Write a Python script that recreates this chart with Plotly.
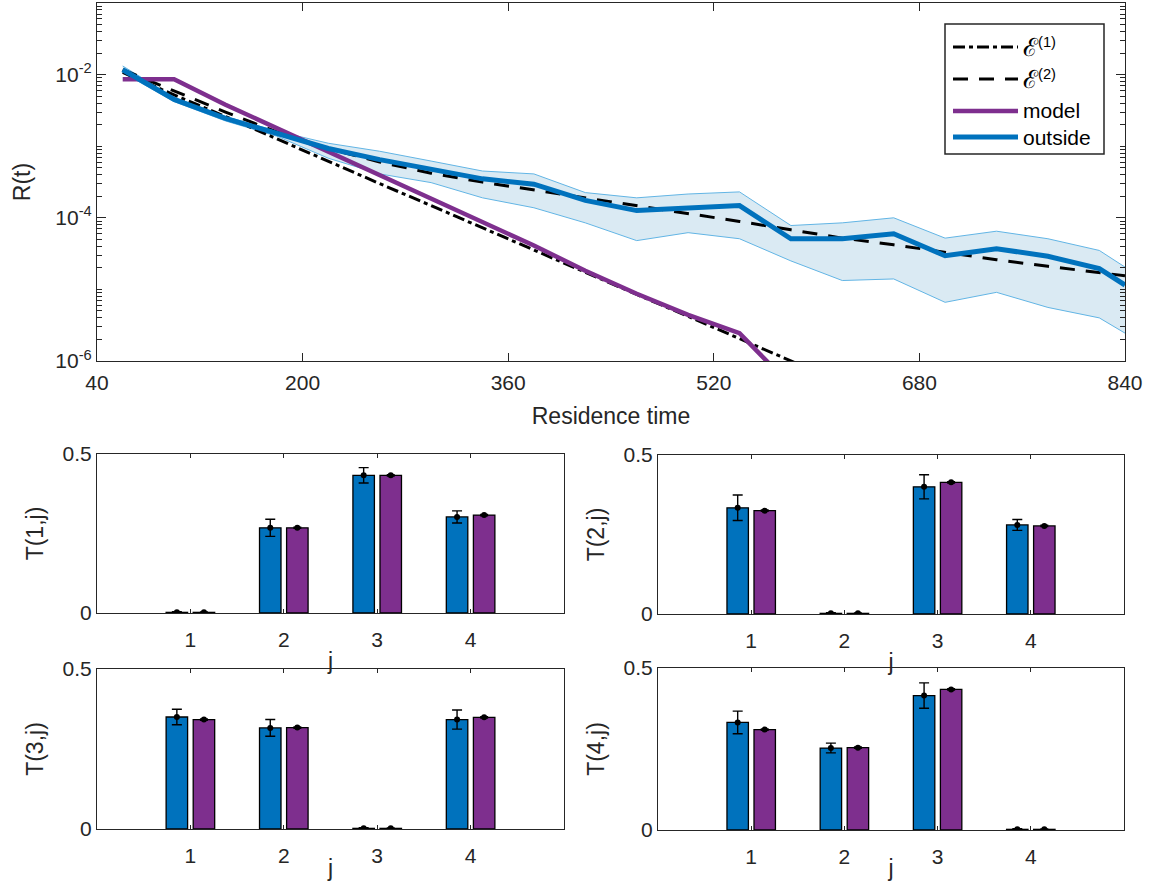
import plotly.graph_objects as go

# ---------------- data: residence-time distribution ----------------
t = [60, 100, 140, 180, 220, 260, 300, 340, 380, 420, 460, 500, 540,
     580, 620, 660, 700, 740, 780, 820, 840]
outside = [1.17e-2, 4.5e-3, 2.45e-3, 1.5e-3, 9.3e-4, 6.5e-4, 4.8e-4, 3.5e-4, 2.95e-4,
           1.75e-4, 1.26e-4, 1.38e-4, 1.48e-4, 5.1e-5, 5.1e-5, 6.0e-5, 2.95e-5,
           3.7e-5, 2.9e-5, 1.95e-5, 1.15e-5]
outside_hi = [1.32e-2, 4.8e-3, 2.6e-3, 1.62e-3, 1.1e-3, 8.5e-4, 6.2e-4, 4.5e-4, 4.1e-4,
              2.25e-4, 1.9e-4, 2.15e-4, 2.3e-4, 7.8e-5, 8.5e-5, 1.0e-4, 5.2e-5,
              6.5e-5, 5.1e-5, 3.5e-5, 2.05e-5]
outside_lo = [1.07e-2, 4.2e-3, 2.25e-3, 1.38e-3, 6.8e-4, 4.1e-4, 3.1e-4, 1.9e-4, 1.38e-4,
              8.5e-5, 4.8e-5, 6.2e-5, 5.1e-5, 2.5e-5, 1.33e-5, 1.4e-5, 6.6e-6,
              9.1e-6, 5.6e-6, 4.0e-6, 2.45e-6]
t_model = [60, 100, 140, 180, 220, 260, 300, 340, 380, 420, 460, 500, 540, 580]
model = [8.6e-3, 8.6e-3, 3.8e-3, 1.78e-3, 8.3e-4, 4.0e-4, 1.86e-4, 8.7e-5, 4.1e-5,
         1.82e-5, 8.7e-6, 4.4e-6, 2.45e-6, 4.5e-7]
t_e1 = [60, 100, 140, 180, 220, 260, 300, 340, 380, 420, 460, 500, 540, 580, 620]
e1 = [1.07e-2, 5.2e-3, 2.6e-3, 1.26e-3, 6.2e-4, 3.0e-4, 1.48e-4, 7.2e-5, 3.55e-5,
      1.74e-5, 8.5e-6, 4.2e-6, 2.05e-6, 1.0e-6, 4.9e-7]
e2 = [1.17e-2, 6.0e-3, 3.0e-3, 1.58e-3, 9.3e-4, 6.0e-4, 4.2e-4, 3.15e-4, 2.45e-4,
      1.9e-4, 1.5e-4, 1.17e-4, 8.9e-5, 6.8e-5, 5.2e-5, 4.2e-5, 3.3e-5, 2.6e-5,
      2.1e-5, 1.7e-5, 1.55e-5]
legend_labels = ["<span style='font-size:25px'>ℰ</span><sup>(1)</sup>",
                 "<span style='font-size:25px'>ℰ</span><sup>(2)</sup>",
                 "model", "outside"]

# ---------------- data: transition matrices ----------------
j = [1, 2, 3, 4]
T_out = [[0.002, 0.268, 0.433, 0.302],
         [0.334, 0.002, 0.400, 0.280],
         [0.350, 0.316, 0.002, 0.342],
         [0.332, 0.253, 0.415, 0.002]]
T_out_err = [[0.002, 0.027, 0.024, 0.019],
             [0.040, 0.002, 0.038, 0.017],
             [0.024, 0.026, 0.002, 0.030],
             [0.035, 0.015, 0.039, 0.002]]
T_mod = [[0.002, 0.268, 0.433, 0.308],
         [0.325, 0.002, 0.414, 0.277],
         [0.342, 0.317, 0.002, 0.349],
         [0.310, 0.254, 0.434, 0.002]]
T_mod_err = [[0.001, 0.002, 0.002, 0.002],
             [0.002, 0.001, 0.002, 0.002],
             [0.002, 0.002, 0.001, 0.002],
             [0.002, 0.002, 0.002, 0.001]]

BLUE = "#0072BD"
PURPLE = "#7E2F8E"
AX = "#262626"
FONT = "Liberation Sans, Arial, Helvetica, sans-serif"
W, H = 1153, 881
E1_DASH = "12px,4px,4px,4px"
E2_DASH = "15px,11px"

fig = go.Figure()

# ---------------- top panel ----------------
fig.add_trace(go.Scatter(x=t, y=outside_lo, mode="lines",
                         line=dict(color="#62B5E5", width=1), showlegend=False,
                         hoverinfo="skip", xaxis="x", yaxis="y"))
fig.add_trace(go.Scatter(x=t, y=outside_hi, mode="lines", fill="tonexty",
                         fillcolor="rgba(166,206,227,0.42)",
                         line=dict(color="#62B5E5", width=1), showlegend=False,
                         hoverinfo="skip", xaxis="x", yaxis="y"))
fig.add_trace(go.Scatter(x=t_e1, y=e1, mode="lines", name="E(1)",
                         line=dict(color="black", width=3, dash=E1_DASH),
                         showlegend=False, xaxis="x", yaxis="y"))
fig.add_trace(go.Scatter(x=t, y=e2, mode="lines", name="E(2)",
                         line=dict(color="black", width=3, dash=E2_DASH),
                         showlegend=False, xaxis="x", yaxis="y"))
fig.add_trace(go.Scatter(x=t_model, y=model, mode="lines", name="model",
                         line=dict(color=PURPLE, width=4.5),
                         showlegend=False, xaxis="x", yaxis="y"))
fig.add_trace(go.Scatter(x=t, y=outside, mode="lines", name="outside",
                         line=dict(color=BLUE, width=5),
                         showlegend=False, xaxis="x", yaxis="y"))


def px_x(a, b):
    return [a / W, b / W]


def px_y(top, bottom):
    return [1 - bottom / H, 1 - top / H]


# minor tick positions for log axis
minor_vals = []
for e in range(-6, -1):
    for m in range(1, 10):
        minor_vals.append(m * 10.0 ** e)
minor_vals.append(0.1)

layout = dict(
    width=W, height=H,
    margin=dict(l=0, r=0, t=0, b=0),
    paper_bgcolor="white", plot_bgcolor="white",
    font=dict(family=FONT, size=21, color=AX),
    barmode="group",
    showlegend=False,
    xaxis=dict(domain=px_x(97, 1125), range=[40, 840], anchor="y", automargin=False,
               tickvals=[40, 200, 360, 520, 680, 840],
               ticks="inside", ticklen=8, tickcolor=AX, mirror="allticks",
               showline=True, linecolor=AX, linewidth=1.2, showgrid=False,
               zeroline=False, tickfont=dict(size=21), ticklabelstandoff=3,
               title=dict(text="Residence time", font=dict(size=23), standoff=14)),
    yaxis=dict(domain=px_y(3, 361), type="log", range=[-6, -1], anchor="x",
               automargin=False,
               tickvals=[1e-6, 1e-4, 1e-2],
               ticktext=["10<sup>-6</sup>", "10<sup>-4</sup>", "10<sup>-2</sup>"],
               ticks="inside", ticklen=9, tickcolor=AX, mirror="allticks",
               showline=True, linecolor=AX, linewidth=1.2, showgrid=False,
               zeroline=False, tickfont=dict(size=21),
               minor=dict(tickvals=minor_vals, ticks="inside", ticklen=5,
                          tickcolor=AX, showgrid=False),
               title=dict(text="R(t)", font=dict(size=23), standoff=18)),
)

# ---------------- manual legend (box, samples, labels) ----------------
shapes = [dict(type="rect", xref="paper", yref="paper",
               x0=945 / W, x1=1104 / W, y0=1 - 154 / H, y1=1 - 24 / H,
               line=dict(color=AX, width=1.5), fillcolor="white", layer="above")]
annotations = []
leg_rows = [47, 79, 111, 137]
leg_styles = [dict(color="black", width=3, dash=E1_DASH),
              dict(color="black", width=3, dash=E2_DASH),
              dict(color=PURPLE, width=4.5),
              dict(color=BLUE, width=5)]
for yy, st, lab in zip(leg_rows, leg_styles, legend_labels):
    shapes.append(dict(type="line", xref="paper", yref="paper",
                       x0=953 / W, x1=1018 / W, y0=1 - yy / H, y1=1 - yy / H,
                       line=st, layer="above"))
    annotations.append(dict(text=lab, xref="paper", yref="paper", x=1021 / W,
                            y=1 - yy / H, xanchor="left", yanchor="middle",
                            showarrow=False,
                            font=dict(family=FONT, size=21, color="black")))

# ---------------- bar panels ----------------
panels = [  # (left, right, top, bottom) in pixels
    (97, 564, 454, 613),
    (658, 1124, 455, 614),
    (97, 564, 669, 829),
    (658, 1124, 668, 830),
]
BAR_W = 0.23
SHIFT = 0.145

for i in range(4):
    k = i + 2
    xa, ya = f"x{k}", f"y{k}"
    fig.add_trace(go.Bar(x=j, y=T_out[i], width=BAR_W, offset=-SHIFT - BAR_W / 2,
                         marker=dict(color=BLUE, line=dict(color="black", width=1.3)),
                         showlegend=False, xaxis=xa, yaxis=ya))
    fig.add_trace(go.Bar(x=j, y=T_mod[i], width=BAR_W, offset=SHIFT - BAR_W / 2,
                         marker=dict(color=PURPLE, line=dict(color="black", width=1.3)),
                         showlegend=False, xaxis=xa, yaxis=ya))
    fig.add_trace(go.Scatter(x=[v - SHIFT for v in j], y=T_out[i], mode="markers",
                             marker=dict(color="black", size=6),
                             error_y=dict(type="data", array=T_out_err[i], color="black",
                                          thickness=1.4, width=5),
                             showlegend=False, xaxis=xa, yaxis=ya))
    fig.add_trace(go.Scatter(x=[v + SHIFT for v in j], y=T_mod[i], mode="markers",
                             marker=dict(color="black", size=6),
                             error_y=dict(type="data", array=T_mod_err[i], color="black",
                                          thickness=1.4, width=4),
                             showlegend=False, xaxis=xa, yaxis=ya))
    l, r, tp, bt = panels[i]
    layout[f"xaxis{k}"] = dict(domain=px_x(l, r), range=[0, 5], anchor=ya,
                               automargin=False,
                               tickvals=j, ticks="inside", ticklen=4, tickcolor=AX,
                               mirror="allticks", showline=True, linecolor=AX,
                               linewidth=1.2, showgrid=False, zeroline=False,
                               tickfont=dict(size=21), ticklabelstandoff=8,
                               title=dict(text="j", font=dict(size=23), standoff=2))
    layout[f"yaxis{k}"] = dict(domain=px_y(tp, bt), range=[0, 0.5], anchor=xa,
                               automargin=False,
                               tickvals=[0, 0.5], ticktext=["0", "0.5"],
                               ticks="inside", ticklen=4, tickcolor=AX,
                               mirror="allticks", showline=True, linecolor=AX,
                               linewidth=1.2, showgrid=False, zeroline=False,
                               tickfont=dict(size=21),
                               title=dict(text=f"T({i + 1},j)", font=dict(size=23),
                                          standoff=12))

layout["shapes"] = shapes
layout["annotations"] = annotations
fig.update_layout(**layout)
fig.write_html("out.html",
               config={"displayModeBar": False},
               post_script="document.body.style.margin='0';"
                           "document.body.style.overflow='hidden';")
